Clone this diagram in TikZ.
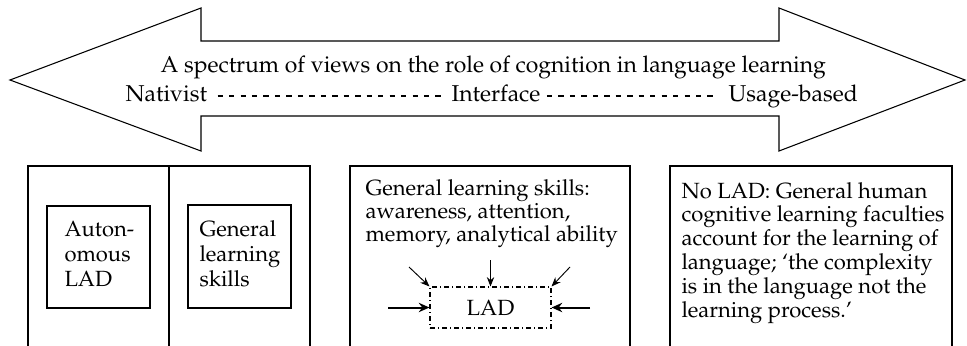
\documentclass[tikz,border=0pt]{standalone}
\usepackage[T1]{fontenc}
\usepackage{mathpazo}
\usetikzlibrary{arrows.meta,calc}
\begin{document}
\begin{tikzpicture}[x=0.75pt,y=-0.75pt, line width=0.8pt,
  txt/.style={inner sep=0pt, align=left, anchor=base west},
  fa/.style={font=\fontsize{16.5}{18.75}\selectfont},
  fb/.style={font=\fontsize{16.5}{17.25}\selectfont},
  fc/.style={font=\fontsize{16.5}{17.85}\selectfont},
  ttl/.style={inner sep=0pt, font=\fontsize{17.2}{21}\selectfont, anchor=base west},
  frame/.style={line width=0.8pt},
  dashline/.style={dash pattern=on 4pt off 4.6pt, line width=0.9pt},
  ladbox/.style={draw, dash pattern=on 4pt off 2pt on 1pt off 2pt, line width=0.8pt, inner sep=0pt,
     minimum width=90.75pt, minimum height=30.75pt, font=\fontsize{16.5}{18.2}\selectfont},
  thinarrow/.style={-{Stealth[length=7pt,width=5.5pt]}, line width=0.7pt},
  thickarrow/.style={-{Stealth[length=8pt,width=7pt]}, line width=1.5pt}
]
\useasboundingbox (0,0) rectangle (967,346);

% spectrum double arrow
\draw[frame] (10,80) -- (201,8) -- (201,41) -- (779,41) -- (779,8) -- (965,80)
  -- (779,151) -- (779,116) -- (201,116) -- (201,151) -- cycle;

\node[ttl] (title) at (160,73) {A spectrum of views on the role of cognition in language learning};
\node[ttl] (nat) at (125,102) {Nativist};
\node[ttl] (int) at (451,102) {Interface};
\node[ttl] (use) at (728,102) {Usage-based};
\draw[dashline] ($(nat.base east)+(10,-6)$) -- ($(int.base west)+(-6,-6)$);
\draw[dashline] ($(int.base east)+(6,-6)$) -- ($(use.base west)+(-11,-6)$);

% left panel
\draw[frame] (28,346) -- (28,166) -- (310,166) -- (310,346);
\draw[frame] (169,166) -- (169,346);
\draw[frame] (47,206) rectangle (150,308);
\draw[frame] (188,205) rectangle (291,308);
\node[txt,fa] (auto) at (64,286) {Auton-\\omous\\LAD};
\node[txt,fa] (gen) at (199,286) {General\\learning\\skills};

% middle panel
\draw[frame] (350,346) -- (350,166) -- (630,166) -- (630,346);
\node[txt,fb] (gls) at (365,241) {General learning skills:\\awareness, attention,\\memory, analytical ability};
\node[ladbox] (lad) at (490.5,307.5) {LAD};
\coordinate (inL) at (388,307.5);
\coordinate (inR) at (590,307.5);
\coordinate (inNW) at (409,267);
\coordinate (inN) at (490.5,260);
\coordinate (inNE) at (570,267);
\draw[thickarrow] (inL) -- (lad.west);
\draw[thickarrow] (inR) -- (lad.east);
\draw[thinarrow] (inNW) -- (lad.north west);
\draw[thinarrow] (inN) -- (lad.north);
\draw[thinarrow] (inNE) -- (lad.north east);

% right panel
\draw[frame] (670,346) -- (670,166) -- (952,166) -- (952,346);
\node[txt,fc] (nolad) at (681,317) {No LAD: General human\\cognitive learning faculties\\account for the learning of\\language; `the complexity\\is in the language not the\\learning process.'};
\end{tikzpicture}
\end{document}
